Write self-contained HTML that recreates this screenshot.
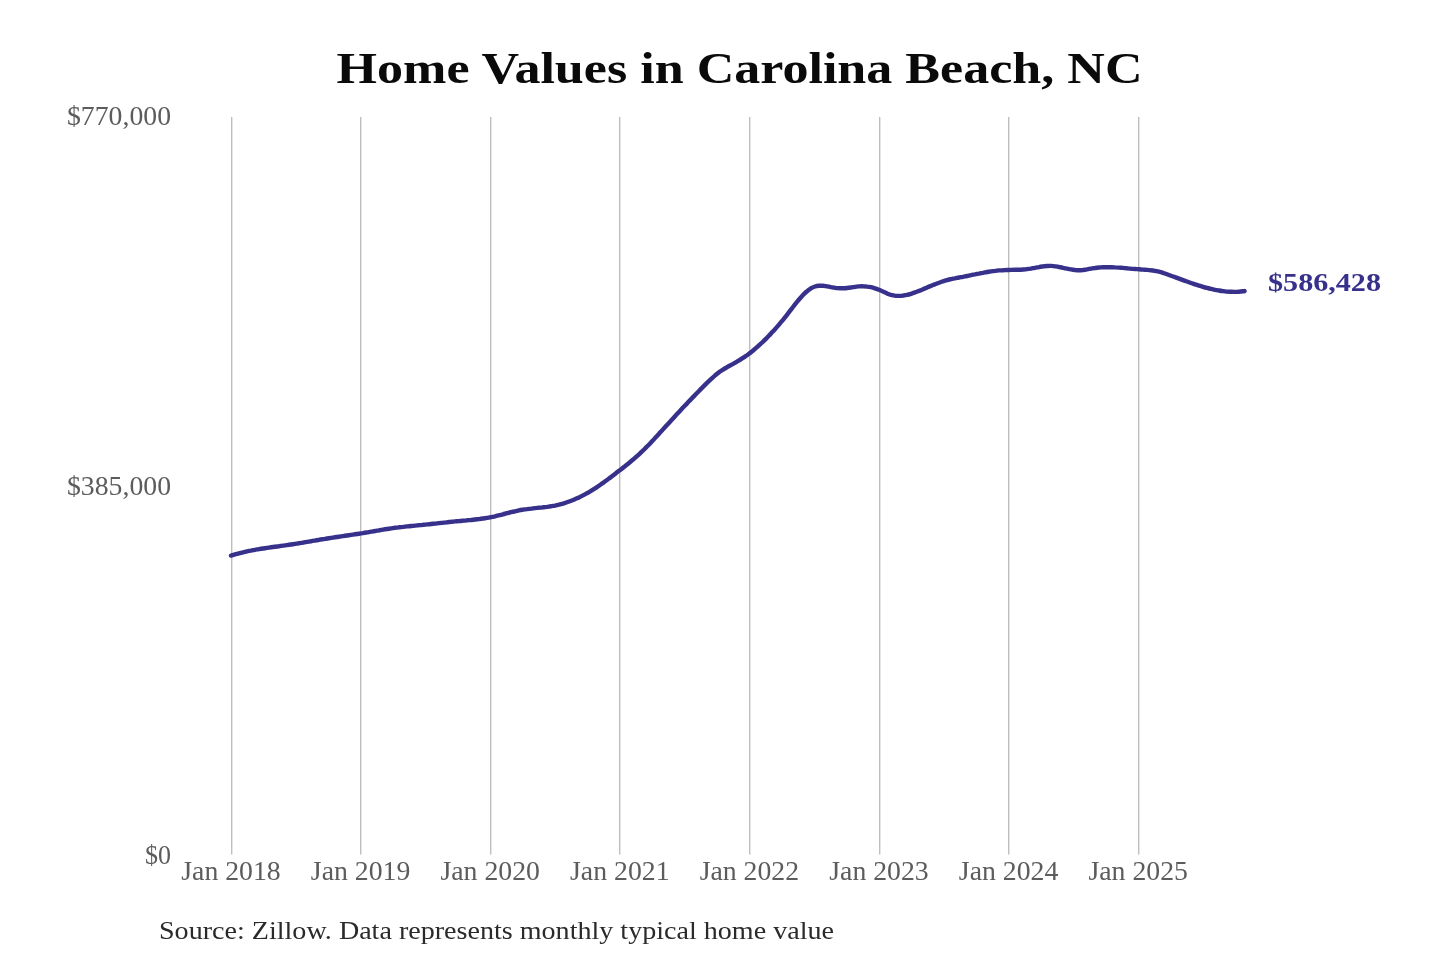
<!DOCTYPE html>
<html><head><meta charset="utf-8"><style>
html,body{margin:0;padding:0;background:#fff;width:1440px;height:960px;overflow:hidden}
svg{display:block;filter:blur(0.4px)}
text{font-family:"Liberation Serif",serif}
</style></head><body>
<svg width="1440" height="960" viewBox="0 0 1440 960">
<rect width="1440" height="960" fill="#fff"/>
<text x="336.5" y="83.2" font-size="44.5" font-weight="bold" fill="#0a0a0a" textLength="806" lengthAdjust="spacingAndGlyphs">Home Values in Carolina Beach, NC</text>
<g stroke="#bebebe" stroke-width="1.4"><line x1="231.7" y1="117" x2="231.7" y2="854.5"/><line x1="360.7" y1="117" x2="360.7" y2="854.5"/><line x1="490.7" y1="117" x2="490.7" y2="854.5"/><line x1="619.7" y1="117" x2="619.7" y2="854.5"/><line x1="749.7" y1="117" x2="749.7" y2="854.5"/><line x1="879.7" y1="117" x2="879.7" y2="854.5"/><line x1="1008.7" y1="117" x2="1008.7" y2="854.5"/><line x1="1138.7" y1="117" x2="1138.7" y2="854.5"/></g>
<g font-size="28" fill="#5c5c5c">
<text x="171" y="124.6" text-anchor="end" textLength="104" lengthAdjust="spacingAndGlyphs">$770,000</text>
<text x="171" y="495" text-anchor="end" textLength="104" lengthAdjust="spacingAndGlyphs">$385,000</text>
<text x="171" y="864" text-anchor="end" textLength="26" lengthAdjust="spacingAndGlyphs">$0</text>
</g>
<g font-size="27" fill="#5c5c5c"><text x="231.0" y="879.6" text-anchor="middle" textLength="99.5" lengthAdjust="spacingAndGlyphs">Jan 2018</text><text x="360.6" y="879.6" text-anchor="middle" textLength="99.5" lengthAdjust="spacingAndGlyphs">Jan 2019</text><text x="490.2" y="879.6" text-anchor="middle" textLength="99.5" lengthAdjust="spacingAndGlyphs">Jan 2020</text><text x="619.8" y="879.6" text-anchor="middle" textLength="99.5" lengthAdjust="spacingAndGlyphs">Jan 2021</text><text x="749.4" y="879.6" text-anchor="middle" textLength="99.5" lengthAdjust="spacingAndGlyphs">Jan 2022</text><text x="879.0" y="879.6" text-anchor="middle" textLength="99.5" lengthAdjust="spacingAndGlyphs">Jan 2023</text><text x="1008.6" y="879.6" text-anchor="middle" textLength="99.5" lengthAdjust="spacingAndGlyphs">Jan 2024</text><text x="1138.2" y="879.6" text-anchor="middle" textLength="99.5" lengthAdjust="spacingAndGlyphs">Jan 2025</text></g>
<path d="M231.0 555.6 C231.7 555.4 233.7 554.8 235.0 554.4 C236.3 554.0 237.7 553.7 239.0 553.3 C240.3 553.0 241.7 552.6 243.0 552.3 C244.3 552.0 245.7 551.7 247.0 551.4 C248.3 551.1 249.7 550.8 251.0 550.6 C252.3 550.3 253.7 550.1 255.0 549.8 C256.3 549.6 257.7 549.3 259.0 549.1 C260.3 548.9 261.7 548.7 263.0 548.5 C264.3 548.3 265.7 548.1 267.0 547.9 C268.3 547.7 269.7 547.5 271.0 547.3 C272.3 547.1 273.7 546.9 275.0 546.7 C276.3 546.5 277.7 546.3 279.0 546.2 C280.3 546.0 281.7 545.8 283.0 545.6 C284.3 545.4 285.7 545.3 287.0 545.1 C288.3 544.9 289.7 544.7 291.0 544.5 C292.3 544.3 293.7 544.1 295.0 543.9 C296.3 543.7 297.7 543.5 299.0 543.3 C300.3 543.1 301.7 542.8 303.0 542.6 C304.3 542.4 305.7 542.2 307.0 541.9 C308.3 541.7 309.7 541.5 311.0 541.3 C312.3 541.0 313.7 540.8 315.0 540.6 C316.3 540.3 317.7 540.1 319.0 539.9 C320.3 539.6 321.7 539.4 323.0 539.2 C324.3 539.0 325.7 538.7 327.0 538.5 C328.3 538.3 329.7 538.1 331.0 537.9 C332.3 537.7 333.7 537.5 335.0 537.3 C336.3 537.1 337.7 536.9 339.0 536.7 C340.3 536.5 341.7 536.3 343.0 536.1 C344.3 535.9 345.7 535.7 347.0 535.5 C348.3 535.3 349.7 535.1 351.0 534.9 C352.3 534.7 353.7 534.5 355.0 534.3 C356.3 534.1 357.7 533.9 359.0 533.7 C360.3 533.5 361.7 533.3 363.0 533.1 C364.3 532.8 365.7 532.6 367.0 532.4 C368.3 532.2 369.7 531.9 371.0 531.7 C372.3 531.5 373.7 531.2 375.0 531.0 C376.3 530.8 377.7 530.5 379.0 530.3 C380.3 530.1 381.7 529.9 383.0 529.6 C384.3 529.4 385.7 529.2 387.0 529.0 C388.3 528.8 389.7 528.6 391.0 528.4 C392.3 528.2 393.7 528.0 395.0 527.8 C396.3 527.7 397.7 527.5 399.0 527.3 C400.3 527.2 401.7 527.0 403.0 526.9 C404.3 526.7 405.7 526.6 407.0 526.4 C408.3 526.3 409.7 526.2 411.0 526.0 C412.3 525.9 413.7 525.8 415.0 525.6 C416.3 525.5 417.7 525.4 419.0 525.2 C420.3 525.1 421.7 525.0 423.0 524.8 C424.3 524.7 425.7 524.6 427.0 524.4 C428.3 524.3 429.7 524.2 431.0 524.0 C432.3 523.9 433.7 523.7 435.0 523.6 C436.3 523.4 437.7 523.3 439.0 523.1 C440.3 523.0 441.7 522.8 443.0 522.7 C444.3 522.5 445.7 522.4 447.0 522.3 C448.3 522.1 449.7 522.0 451.0 521.8 C452.3 521.7 453.7 521.6 455.0 521.4 C456.3 521.3 457.7 521.2 459.0 521.1 C460.3 520.9 461.7 520.8 463.0 520.7 C464.3 520.6 465.7 520.5 467.0 520.3 C468.3 520.2 469.7 520.1 471.0 520.0 C472.3 519.8 473.7 519.7 475.0 519.5 C476.3 519.4 477.7 519.2 479.0 519.1 C480.3 518.9 481.7 518.7 483.0 518.5 C484.3 518.3 485.7 518.1 487.0 517.9 C488.3 517.7 489.7 517.4 491.0 517.1 C492.3 516.9 493.7 516.6 495.0 516.3 C496.3 515.9 497.7 515.6 499.0 515.3 C500.3 515.0 501.7 514.6 503.0 514.3 C504.3 513.9 505.7 513.6 507.0 513.2 C508.3 512.9 509.7 512.6 511.0 512.2 C512.3 511.9 513.7 511.6 515.0 511.3 C516.3 511.0 517.7 510.7 519.0 510.4 C520.3 510.1 521.7 509.9 523.0 509.7 C524.3 509.4 525.7 509.2 527.0 509.1 C528.3 508.9 529.7 508.7 531.0 508.6 C532.3 508.4 533.7 508.3 535.0 508.1 C536.3 508.0 537.7 507.9 539.0 507.7 C540.3 507.6 541.7 507.5 543.0 507.3 C544.3 507.2 545.7 507.0 547.0 506.9 C548.3 506.7 549.7 506.5 551.0 506.3 C552.3 506.1 553.7 505.8 555.0 505.6 C556.3 505.3 557.7 505.0 559.0 504.7 C560.3 504.3 561.7 504.0 563.0 503.6 C564.3 503.2 565.7 502.8 567.0 502.3 C568.3 501.8 569.7 501.4 571.0 500.8 C572.3 500.3 573.7 499.8 575.0 499.2 C576.3 498.6 577.7 498.0 579.0 497.4 C580.3 496.8 581.7 496.1 583.0 495.4 C584.3 494.7 585.7 494.0 587.0 493.2 C588.3 492.5 589.7 491.7 591.0 490.9 C592.3 490.1 593.7 489.2 595.0 488.4 C596.3 487.5 597.7 486.6 599.0 485.7 C600.3 484.8 601.7 483.8 603.0 482.9 C604.3 481.9 605.7 480.9 607.0 480.0 C608.3 479.0 609.7 478.0 611.0 477.0 C612.3 476.0 613.7 474.9 615.0 473.9 C616.3 472.9 617.7 471.8 619.0 470.8 C620.3 469.8 621.7 468.8 623.0 467.7 C624.3 466.7 625.7 465.6 627.0 464.6 C628.3 463.5 629.7 462.4 631.0 461.3 C632.3 460.2 633.7 459.1 635.0 457.9 C636.3 456.7 637.7 455.5 639.0 454.3 C640.3 453.1 641.7 451.8 643.0 450.5 C644.3 449.2 645.7 447.9 647.0 446.5 C648.3 445.2 649.7 443.8 651.0 442.4 C652.3 441.0 653.7 439.6 655.0 438.1 C656.3 436.7 657.7 435.2 659.0 433.8 C660.3 432.3 661.7 430.9 663.0 429.4 C664.3 427.9 665.7 426.4 667.0 425.0 C668.3 423.5 669.7 422.0 671.0 420.6 C672.3 419.1 673.7 417.7 675.0 416.2 C676.3 414.8 677.7 413.3 679.0 411.9 C680.3 410.5 681.7 409.0 683.0 407.6 C684.3 406.2 685.7 404.8 687.0 403.4 C688.3 402.0 689.7 400.6 691.0 399.2 C692.3 397.8 693.7 396.4 695.0 395.1 C696.3 393.7 697.7 392.3 699.0 391.0 C700.3 389.6 701.7 388.2 703.0 386.9 C704.3 385.6 705.7 384.2 707.0 382.9 C708.3 381.6 709.7 380.3 711.0 379.1 C712.3 377.9 713.7 376.7 715.0 375.5 C716.3 374.4 717.7 373.3 719.0 372.3 C720.3 371.3 721.7 370.4 723.0 369.6 C724.3 368.7 725.7 367.9 727.0 367.2 C728.3 366.4 729.7 365.7 731.0 365.0 C732.3 364.2 733.7 363.5 735.0 362.8 C736.3 362.0 737.7 361.2 739.0 360.4 C740.3 359.6 741.7 358.8 743.0 357.9 C744.3 357.0 745.7 356.1 747.0 355.2 C748.3 354.2 749.7 353.2 751.0 352.2 C752.3 351.1 753.7 350.1 755.0 348.9 C756.3 347.8 757.7 346.6 759.0 345.4 C760.3 344.2 761.7 343.0 763.0 341.7 C764.3 340.4 765.7 339.1 767.0 337.7 C768.3 336.3 769.7 335.0 771.0 333.5 C772.3 332.1 773.7 330.7 775.0 329.2 C776.3 327.7 777.7 326.2 779.0 324.6 C780.3 323.0 781.7 321.4 783.0 319.8 C784.3 318.2 785.7 316.5 787.0 314.8 C788.3 313.1 789.7 311.3 791.0 309.6 C792.3 307.9 793.7 306.1 795.0 304.4 C796.3 302.8 797.7 301.1 799.0 299.5 C800.3 298.0 801.7 296.4 803.0 295.0 C804.3 293.7 805.7 292.4 807.0 291.3 C808.3 290.1 809.7 289.1 811.0 288.3 C812.3 287.6 813.7 287.0 815.0 286.5 C816.3 286.1 817.7 285.9 819.0 285.8 C820.3 285.7 821.7 285.7 823.0 285.8 C824.3 285.9 825.7 286.2 827.0 286.4 C828.3 286.6 829.7 286.9 831.0 287.2 C832.3 287.4 833.7 287.7 835.0 287.8 C836.3 288.0 837.7 288.1 839.0 288.2 C840.3 288.3 841.7 288.3 843.0 288.3 C844.3 288.2 845.7 288.2 847.0 288.0 C848.3 287.9 849.7 287.7 851.0 287.5 C852.3 287.3 853.7 287.0 855.0 286.8 C856.3 286.6 857.7 286.5 859.0 286.4 C860.3 286.3 861.7 286.2 863.0 286.3 C864.3 286.3 865.7 286.4 867.0 286.6 C868.3 286.7 869.7 286.9 871.0 287.2 C872.3 287.5 873.7 287.9 875.0 288.3 C876.3 288.7 877.7 289.2 879.0 289.8 C880.3 290.3 881.7 291.0 883.0 291.6 C884.3 292.2 885.7 292.9 887.0 293.4 C888.3 294.0 889.7 294.5 891.0 294.9 C892.3 295.2 893.7 295.5 895.0 295.7 C896.3 295.8 897.7 295.9 899.0 295.9 C900.3 295.9 901.7 295.8 903.0 295.6 C904.3 295.4 905.7 295.2 907.0 294.9 C908.3 294.6 909.7 294.2 911.0 293.8 C912.3 293.4 913.7 292.9 915.0 292.4 C916.3 292.0 917.7 291.4 919.0 290.9 C920.3 290.4 921.7 289.8 923.0 289.2 C924.3 288.7 925.7 288.1 927.0 287.6 C928.3 287.0 929.7 286.4 931.0 285.9 C932.3 285.3 933.7 284.8 935.0 284.2 C936.3 283.7 937.7 283.2 939.0 282.7 C940.3 282.2 941.7 281.8 943.0 281.3 C944.3 280.9 945.7 280.5 947.0 280.1 C948.3 279.7 949.7 279.4 951.0 279.1 C952.3 278.8 953.7 278.5 955.0 278.3 C956.3 278.0 957.7 277.8 959.0 277.5 C960.3 277.3 961.7 277.0 963.0 276.8 C964.3 276.5 965.7 276.3 967.0 276.0 C968.3 275.7 969.7 275.5 971.0 275.2 C972.3 274.9 973.7 274.6 975.0 274.4 C976.3 274.1 977.7 273.8 979.0 273.6 C980.3 273.3 981.7 273.0 983.0 272.8 C984.3 272.5 985.7 272.3 987.0 272.0 C988.3 271.8 989.7 271.6 991.0 271.4 C992.3 271.2 993.7 271.0 995.0 270.9 C996.3 270.7 997.7 270.6 999.0 270.4 C1000.3 270.3 1001.7 270.2 1003.0 270.2 C1004.3 270.1 1005.7 270.1 1007.0 270.0 C1008.3 270.0 1009.7 269.9 1011.0 269.9 C1012.3 269.9 1013.7 269.9 1015.0 269.8 C1016.3 269.8 1017.7 269.8 1019.0 269.7 C1020.3 269.7 1021.7 269.6 1023.0 269.5 C1024.3 269.4 1025.7 269.3 1027.0 269.1 C1028.3 269.0 1029.7 268.8 1031.0 268.6 C1032.3 268.3 1033.7 268.1 1035.0 267.8 C1036.3 267.6 1037.7 267.3 1039.0 267.1 C1040.3 266.8 1041.7 266.6 1043.0 266.4 C1044.3 266.2 1045.7 266.1 1047.0 266.0 C1048.3 265.9 1049.7 265.9 1051.0 265.9 C1052.3 266.0 1053.7 266.1 1055.0 266.3 C1056.3 266.5 1057.7 266.7 1059.0 267.0 C1060.3 267.2 1061.7 267.5 1063.0 267.8 C1064.3 268.1 1065.7 268.4 1067.0 268.6 C1068.3 268.9 1069.7 269.2 1071.0 269.4 C1072.3 269.6 1073.7 269.8 1075.0 270.0 C1076.3 270.1 1077.7 270.2 1079.0 270.2 C1080.3 270.2 1081.7 270.1 1083.0 270.0 C1084.3 269.8 1085.7 269.6 1087.0 269.4 C1088.3 269.1 1089.7 268.8 1091.0 268.6 C1092.3 268.4 1093.7 268.1 1095.0 268.0 C1096.3 267.8 1097.7 267.6 1099.0 267.5 C1100.3 267.4 1101.7 267.3 1103.0 267.2 C1104.3 267.2 1105.7 267.2 1107.0 267.2 C1108.3 267.2 1109.7 267.2 1111.0 267.2 C1112.3 267.2 1113.7 267.3 1115.0 267.4 C1116.3 267.4 1117.7 267.5 1119.0 267.6 C1120.3 267.7 1121.7 267.8 1123.0 267.9 C1124.3 268.1 1125.7 268.2 1127.0 268.3 C1128.3 268.4 1129.7 268.5 1131.0 268.7 C1132.3 268.8 1133.7 268.9 1135.0 269.0 C1136.3 269.1 1137.7 269.2 1139.0 269.3 C1140.3 269.4 1141.7 269.5 1143.0 269.6 C1144.3 269.7 1145.7 269.8 1147.0 269.9 C1148.3 270.0 1149.7 270.1 1151.0 270.3 C1152.3 270.4 1153.7 270.6 1155.0 270.8 C1156.3 271.1 1157.7 271.3 1159.0 271.7 C1160.3 272.0 1161.7 272.4 1163.0 272.8 C1164.3 273.2 1165.7 273.7 1167.0 274.2 C1168.3 274.7 1169.7 275.2 1171.0 275.7 C1172.3 276.2 1173.7 276.7 1175.0 277.1 C1176.3 277.6 1177.7 278.1 1179.0 278.6 C1180.3 279.1 1181.7 279.6 1183.0 280.1 C1184.3 280.6 1185.7 281.1 1187.0 281.5 C1188.3 282.0 1189.7 282.5 1191.0 283.0 C1192.3 283.4 1193.7 283.9 1195.0 284.3 C1196.3 284.7 1197.7 285.2 1199.0 285.6 C1200.3 286.0 1201.7 286.4 1203.0 286.8 C1204.3 287.2 1205.7 287.6 1207.0 287.9 C1208.3 288.3 1209.7 288.6 1211.0 288.9 C1212.3 289.2 1213.7 289.5 1215.0 289.8 C1216.3 290.1 1217.7 290.3 1219.0 290.5 C1220.3 290.8 1221.7 291.0 1223.0 291.1 C1224.3 291.3 1225.7 291.4 1227.0 291.6 C1228.3 291.7 1229.7 291.8 1231.0 291.8 C1232.3 291.9 1233.7 291.9 1235.0 291.9 C1236.3 291.9 1237.7 291.8 1239.0 291.7 C1240.3 291.6 1242.1 291.4 1243.0 291.3 C1243.9 291.3 1244.3 291.2 1244.6 291.1" fill="none" stroke="#37318c" stroke-width="4.4" stroke-linecap="round" stroke-linejoin="round"/>
<text x="1268" y="290.7" font-size="25.5" font-weight="bold" fill="#37318c" textLength="113" lengthAdjust="spacingAndGlyphs">$586,428</text>
<text x="159" y="939" font-size="25" fill="#2a2a2a" textLength="675" lengthAdjust="spacingAndGlyphs">Source: Zillow. Data represents monthly typical home value</text>
</svg>
</body></html>
